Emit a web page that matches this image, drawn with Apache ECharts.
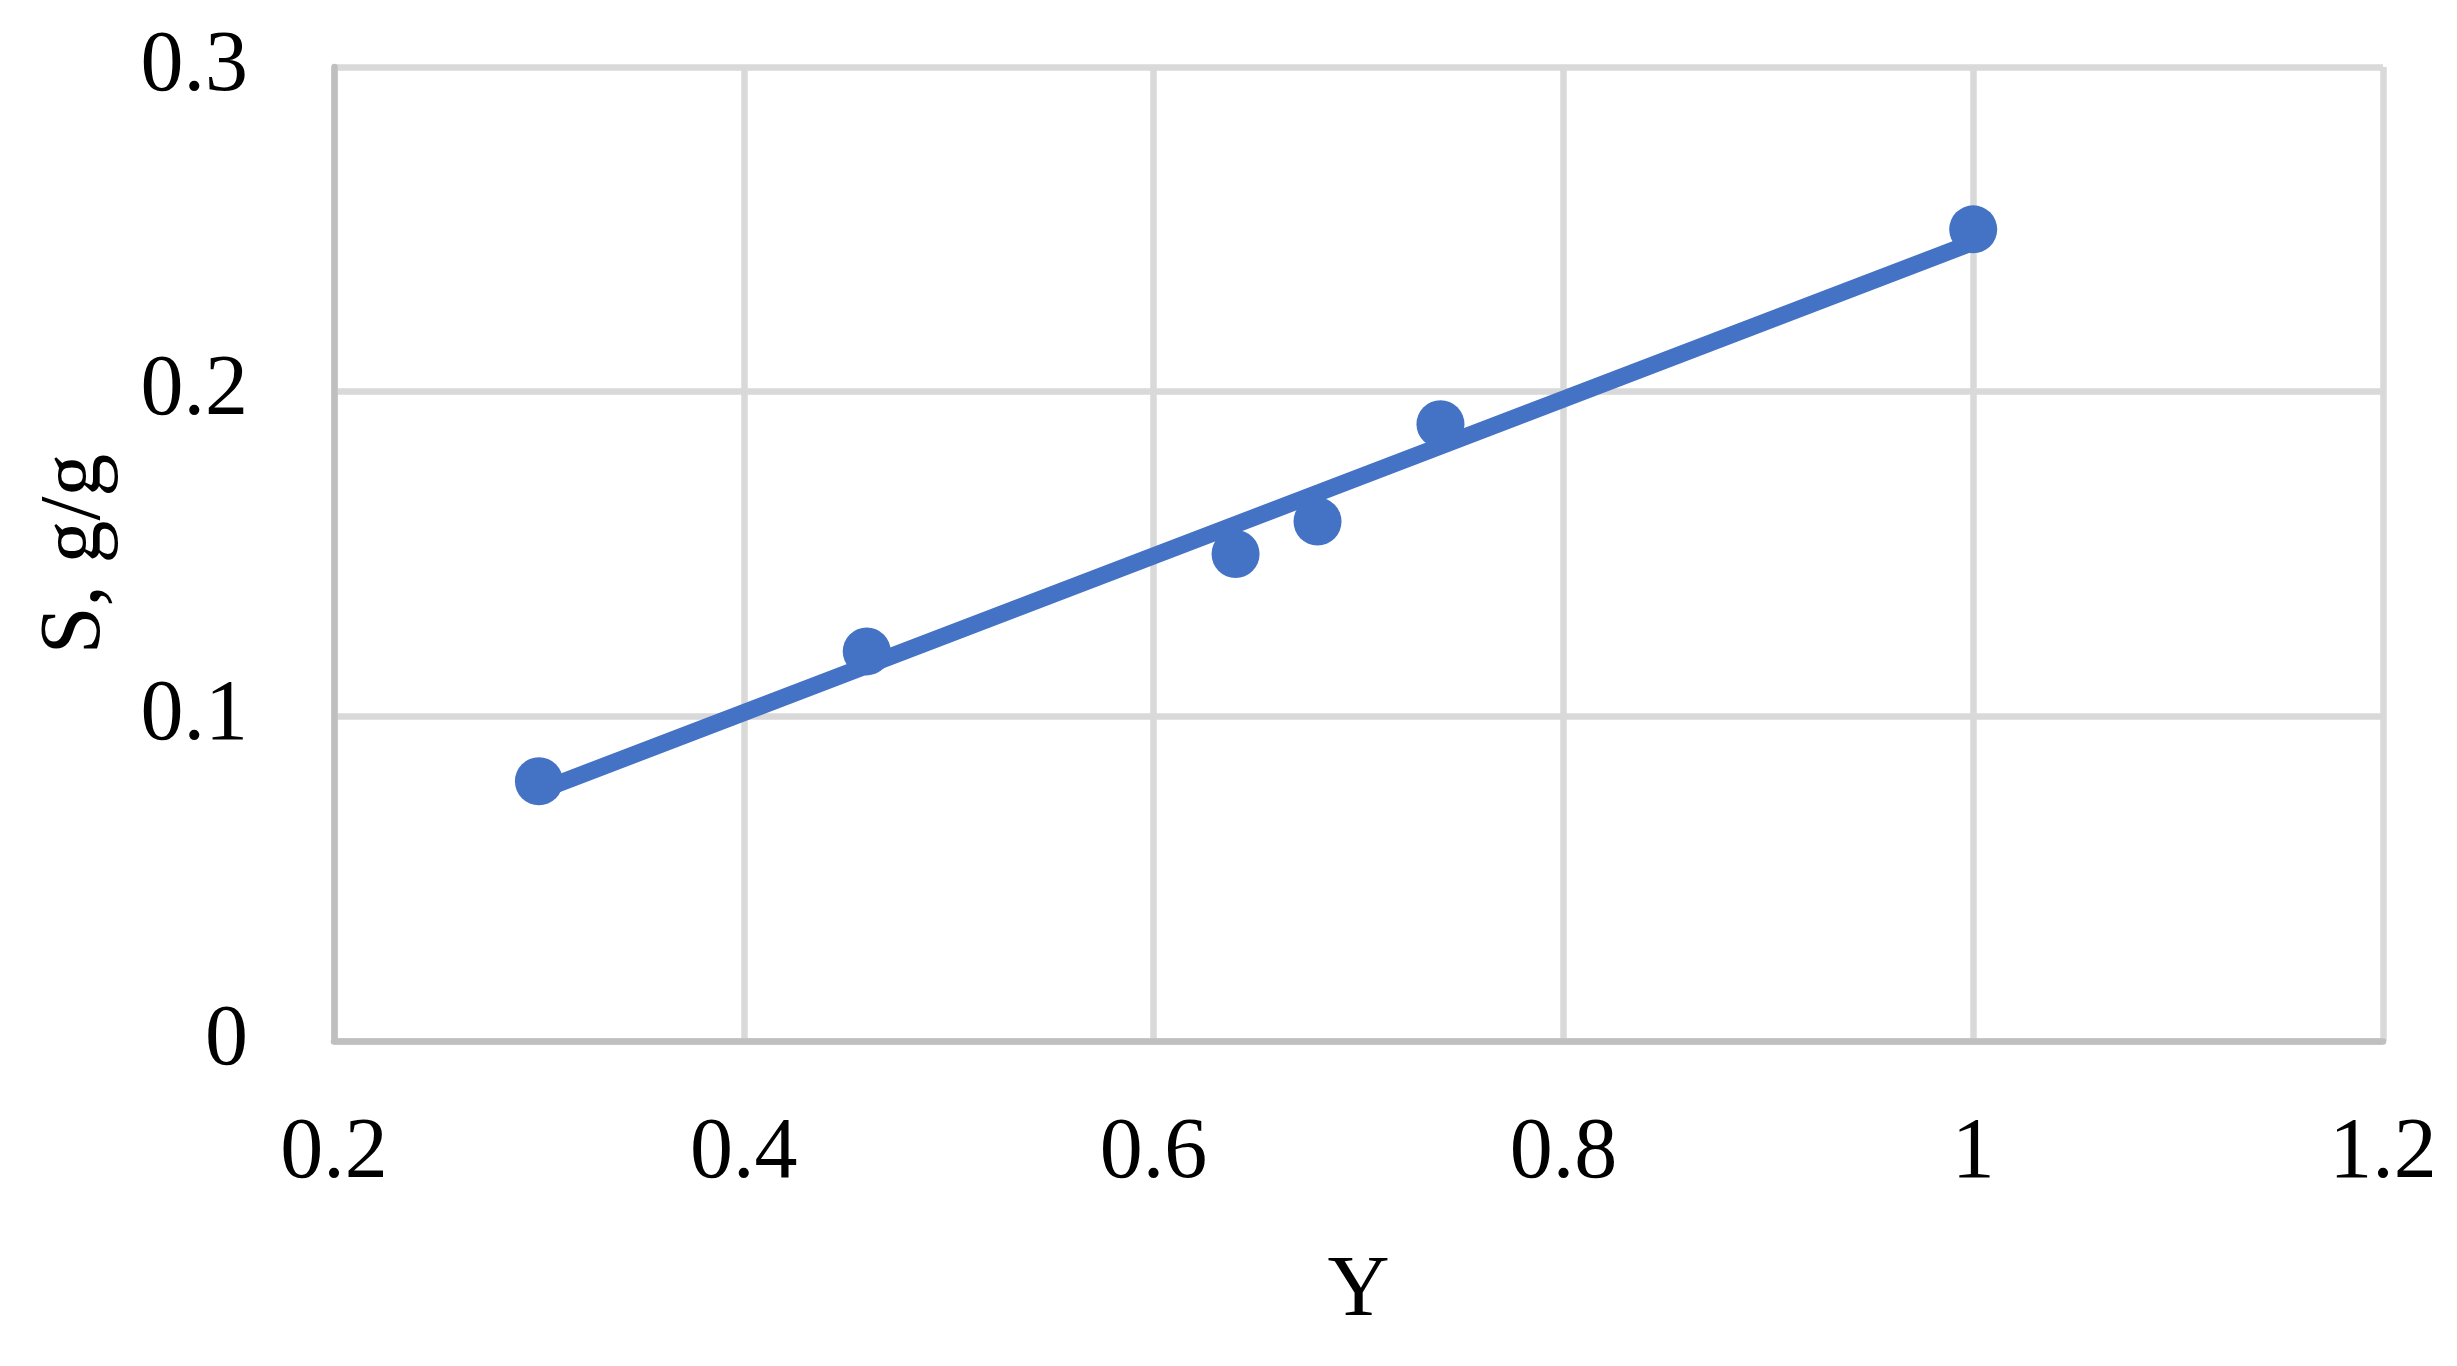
<!DOCTYPE html>
<html>
<head>
<meta charset="utf-8">
<style>
  html, body { margin: 0; padding: 0; background: #ffffff; }
  #chart { width: 2457px; height: 1366px; }
</style>
<script src="https://cdn.jsdelivr.net/npm/echarts@6/dist/echarts.min.js"></script>
</head>
<body>
<div id="chart"></div>
<script>
// ---- data ----
const pointsX = [0.30, 0.46, 0.64, 0.68, 0.74, 1.00];
const pointsY = [0.08, 0.12, 0.15, 0.16, 0.19, 0.25];
// linear trendline endpoints (as drawn)
const trendX = [0.30, 1.00];
const trendY = [0.077, 0.246];
// axis ticks
const xTicks = [0.2, 0.4, 0.6, 0.8, 1, 1.2];
const yTicks = [0, 0.1, 0.2, 0.3];
const xTitle = 'Y';
const yTitle = 'S, g/g';

const FONT = '"Liberation Serif", "Times New Roman", serif';
const BLUE = '#4472c4';

const chart = echarts.init(document.getElementById('chart'), null, { renderer: 'canvas' });

const scatterData = pointsX.map((x, i) => [x, pointsY[i]]);
const trendData = trendX.map((x, i) => [x, trendY[i]]);

const fmt = v => {
  const r = Math.round(v * 10) / 10;
  return String(r);
};

chart.setOption({
  backgroundColor: '#ffffff',
  animation: false,
  grid: { left: 334, right: 74, top: 67, bottom: 325, containLabel: false },
  xAxis: {
    type: 'value',
    min: xTicks[0],
    max: xTicks[xTicks.length - 1],
    interval: 0.2,
    name: xTitle,
    nameLocation: 'middle',
    nameGap: 208,
    nameTextStyle: { fontFamily: FONT, fontSize: 86, color: '#000' },
    axisLine: { show: true, onZero: false, lineStyle: { color: '#bfbfbf', width: 6.5 } },
    axisTick: { show: false },
    axisLabel: { fontFamily: FONT, fontSize: 86, color: '#000', margin: 70, formatter: fmt },
    splitLine: { show: true, lineStyle: { color: '#d9d9d9', width: 6.5 } }
  },
  yAxis: {
    type: 'value',
    min: yTicks[0],
    max: yTicks[yTicks.length - 1],
    interval: 0.1,
    name: yTitle,
    nameLocation: 'middle',
    nameGap: 215,
    nameTextStyle: { fontFamily: FONT, fontSize: 86, color: '#000' },
    axisLine: { show: true, onZero: false, lineStyle: { color: '#bfbfbf', width: 6.5 } },
    axisTick: { show: false },
    axisLabel: { fontFamily: FONT, fontSize: 86, color: '#000', margin: 86, formatter: fmt },
    splitLine: { show: true, lineStyle: { color: '#d9d9d9', width: 6.5 } }
  },
  series: [
    {
      type: 'line',
      data: trendData,
      showSymbol: false,
      symbol: 'none',
      lineStyle: { color: BLUE, width: 17, cap: 'butt' },
      z: 2,
      silent: true
    },
    {
      type: 'scatter',
      data: scatterData,
      symbol: 'circle',
      symbolSize: 48,
      itemStyle: { color: BLUE, opacity: 1 },
      z: 3
    }
  ]
});
</script>
</body>
</html>
